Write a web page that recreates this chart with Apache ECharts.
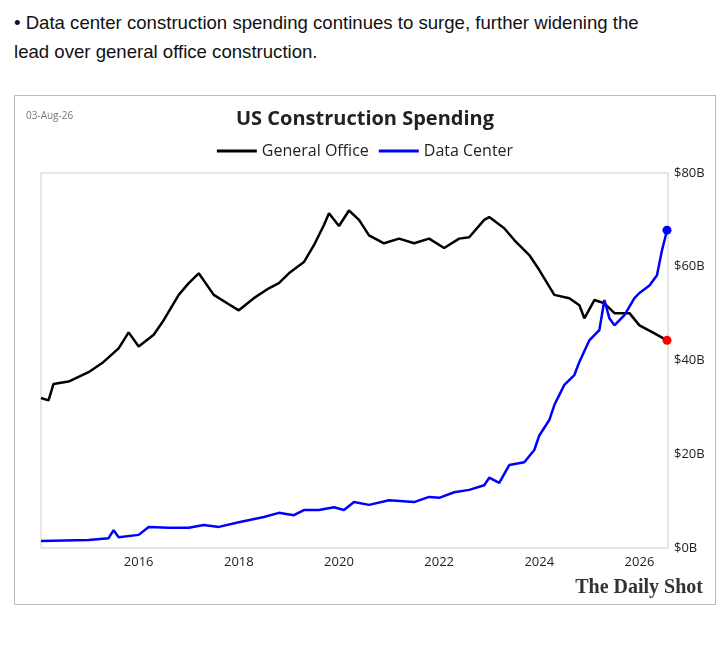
<!DOCTYPE html>
<html>
<head>
<meta charset="utf-8">
<script src="https://cdn.jsdelivr.net/npm/echarts@6/dist/echarts.min.js"></script>
<style>
  body { margin:0; background:#fff; font-family: "Liberation Sans", Arial, sans-serif; }
  #head { position:absolute; left:14px; top:8px; width:662px; font-size:18.6px; line-height:29px; color:#111; }
  #main { position:absolute; left:14px; top:95px; width:700px; height:508px; border:1px solid #bbb; }
</style>
</head>
<body>
<div id="head">&#8226; Data center construction spending continues to surge, further widening the lead over general office construction.</div>
<div id="main"></div>
<script type="text/javascript">
// General office: year, $B
var officeYears = [2014.05,2014.2,2014.3,2014.6,2015.0,2015.3,2015.6,2015.8,2016.0,2016.3,2016.5,2016.8,2017.0,2017.2,2017.5,2017.8,2018.0,2018.3,2018.6,2018.8,2019.0,2019.3,2019.5,2019.7,2019.8,2020.0,2020.2,2020.4,2020.6,2020.9,2021.2,2021.5,2021.8,2022.1,2022.4,2022.6,2022.9,2023.0,2023.3,2023.5,2023.8,2024.0,2024.3,2024.6,2024.8,2024.9,2025.1,2025.3,2025.5,2025.8,2026.0,2026.3,2026.55];
var officeValues = [32,31.5,35,35.5,37.5,39.7,42.6,46,43,45.5,48.6,54,56.5,58.6,54,52,50.7,53.3,55.4,56.5,58.6,61,64.6,68.9,71.4,68.7,72,70,66.7,65,66,65,66,64,66,66.3,70,70.6,68.2,65.7,62.5,59.3,54,53.3,51.8,49,52.9,52.2,50.1,50.1,47.5,45.8,44.3];
// Data center: year, $B
var dcYears = [2014.05,2015.0,2015.4,2015.5,2015.6,2016.0,2016.2,2016.6,2017.0,2017.3,2017.6,2018.0,2018.5,2018.8,2019.1,2019.3,2019.6,2019.9,2020.1,2020.3,2020.6,2021.0,2021.5,2021.8,2022.0,2022.3,2022.6,2022.9,2023.0,2023.2,2023.4,2023.7,2023.9,2024.0,2024.2,2024.3,2024.5,2024.7,2024.8,2025.0,2025.1,2025.2,2025.3,2025.4,2025.5,2025.7,2025.9,2026.0,2026.2,2026.35,2026.45,2026.55];
var dcValues = [1.5,1.7,2.1,3.8,2.3,2.8,4.5,4.3,4.3,4.9,4.5,5.5,6.6,7.5,7,8.1,8.1,8.7,8.1,9.8,9.2,10.2,9.8,10.9,10.7,11.9,12.4,13.4,15,13.9,17.7,18.3,20.9,24,27.3,30.5,34.8,36.9,39.7,44.3,45.4,46.5,52.9,49,47.5,49.7,53.3,54.4,56,58.2,63.5,67.8];
var yearTicks = [2016,2018,2020,2022,2024,2026];

function pairs(xs, ys, color) {
    return xs.map(function (x, i) {
        var d = {value: [x, ys[i]]};
        if (i === xs.length - 1) {
            d.symbol = 'circle'; d.symbolSize = 9;
            d.itemStyle = {color: color};
        }
        return d;
    });
}

var myChart = echarts.init(document.getElementById('main'));
myChart.setOption({
    animation: false,
    title: {
        text: 'US Construction Spending', left: 'center', top: 8,
        textStyle: {fontSize: 20, fontWeight: 'bold', color: '#222', fontFamily: 'Open Sans'}
    },
    graphic: [
        {type: 'text', left: 11, top: 15, style: {text: '03-Aug-26', fontSize: 10, fill: '#777', fontFamily: 'Open Sans'}},
        {type: 'text', right: 12, bottom: 6, style: {text: 'The Daily Shot', fontSize: 20, fontWeight: 'bold', fill: '#333', fontFamily: 'Liberation Serif'}}
    ],
    legend: {
        top: 42, left: 'center', itemWidth: 40, itemHeight: 3, itemGap: 10, icon: 'rect',
        textStyle: {fontSize: 16, color: '#222', fontFamily: 'Open Sans'},
        data: ['General Office', 'Data Center']
    },
    grid: {left: 26, top: 77, right: 47, bottom: 56, show: true, borderColor: '#ccc', borderWidth: 1},
    xAxis: {
        type: 'value', min: 2014.05, max: 2026.57,
        splitLine: {show: false}, axisLine: {show: false},
        axisTick: {show: false},
        axisLabel: {customValues: yearTicks, fontSize: 13, color: '#222', fontFamily: 'Open Sans',
                    formatter: function (v) { return String(v); }}
    },
    yAxis: {
        type: 'value', position: 'right', min: 0, max: 80, interval: 20,
        splitLine: {show: false}, axisLine: {show: false}, axisTick: {show: false},
        axisLabel: {fontSize: 13, color: '#222', fontFamily: 'Open Sans', margin: 6, formatter: function (v) { return '$' + v + 'B'; }}
    },
    series: [
        {name: 'General Office', type: 'line', showSymbol: true, symbol: 'none', color: '#000',
         lineStyle: {width: 2.5}, data: pairs(officeYears, officeValues, '#f00')},
        {name: 'Data Center', type: 'line', showSymbol: true, symbol: 'none', color: '#00f',
         lineStyle: {width: 2.5}, data: pairs(dcYears, dcValues, '#00f')}
    ]
});
</script>
</body>
</html>
